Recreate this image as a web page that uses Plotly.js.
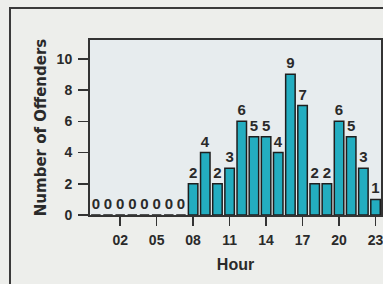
<!DOCTYPE html>
<html>
<head>
<meta charset="utf-8">
<script src="https://cdn.plot.ly/plotly-3.0.1.min.js"></script>
<style>
  html, body { margin: 0; padding: 0; background: #edeeeb; overflow: hidden; }
  #frame { position: absolute; left: 9px; top: 7px; width: 380px; height: 280px;
           border-left: 2px solid #3a3a3a; border-top: 2px solid #3a3a3a; }
  #chart { position: absolute; left: 0; top: 0; width: 383px; height: 284px; }
</style>
</head>
<body>
<div id="frame"></div>
<div id="chart"></div>
<script>
const hours = [0,1,2,3,4,5,6,7,8,9,10,11,12,13,14,15,16,17,18,19,20,21,22,23];
const offenders = [0,0,0,0,0,0,0,0,2,4,2,3,6,5,5,4,9,7,2,2,6,5,3,1];
const tickVals = [2,5,8,11,14,17,20,23];
const tickText = ['02','05','08','11','14','17','20','23'];
const yTicks = [0,2,4,6,8,10];

const sans = 'Liberation Sans, Arial, sans-serif';
const txt = '#2a2a2a';

const trace = {
  type: 'bar',
  x: hours,
  y: offenders,
  width: 0.78,
  marker: { color: '#23adc0', line: { color: '#1e1e1e', width: 1.5 } },
  text: offenders.map(String),
  textposition: 'outside',
  cliponaxis: false,
  textfont: { family: sans, size: 15, color: txt, weight: 'bold' },
  hoverinfo: 'none'
};

const layout = {
  width: 383, height: 284,
  margin: { l: 90, r: 2, t: 40, b: 69 },
  paper_bgcolor: 'rgba(0,0,0,0)',
  plot_bgcolor: '#e7ecee',
  showlegend: false,
  font: { family: sans, color: txt },
  xaxis: {
    range: [-0.48, 23.45],
    tickvals: tickVals, ticktext: tickText,
    ticks: 'outside', ticklen: 9, tickwidth: 1.5, tickcolor: '#333',
    ticklabelstandoff: 2,
    ticklabeloverflow: 'allow',
    tickfont: { family: sans, size: 14, color: txt, weight: 'bold' },
    showgrid: false, zeroline: false,
    showline: true, linecolor: '#333', linewidth: 2, mirror: true,
    title: { text: 'Hour', font: { family: sans, size: 16, color: txt, weight: 'bold' }, standoff: 12 }
  },
  yaxis: {
    range: [0, 11.2],
    tickvals: yTicks,
    ticks: 'outside', ticklen: 10, tickwidth: 1.5, tickcolor: '#333',
    ticklabelstandoff: 3,
    tickfont: { family: sans, size: 14, color: txt, weight: 'bold' },
    showgrid: false, zeroline: false,
    showline: true, linecolor: '#333', linewidth: 2, mirror: true,
    title: { text: 'Number of Offenders', font: { family: 'DejaVu Sans, sans-serif', size: 15, color: txt, weight: 'bold' }, standoff: 6 }
  },
  bargap: 0.2
};

Plotly.newPlot('chart', [trace], layout, { displayModeBar: false, staticPlot: true });
</script>
</body>
</html>
